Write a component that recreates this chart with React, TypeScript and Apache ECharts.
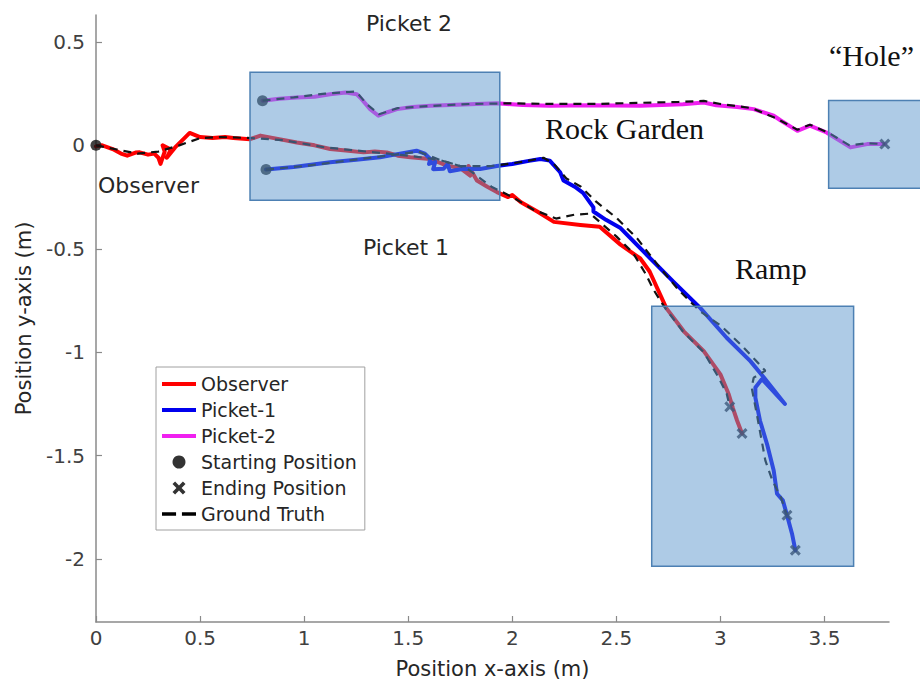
import React, { useEffect, useRef } from "react";
import * as echarts from "echarts";

// ---- data (metres) ----
const xTicks = [0, 0.5, 1, 1.5, 2, 2.5, 3, 3.5];
const yTicks = [-2, -1.5, -1, -0.5, 0, 0.5];

const observerPath = [
  [0, -0.005], [0.03, 0.0], [0.08, -0.018], [0.12, -0.04], [0.15, -0.05], [0.19, -0.035], [0.21, -0.034],
  [0.25, -0.045], [0.28, -0.04], [0.3, -0.06], [0.31, -0.09], [0.33, -0.03], [0.32, 0.0], [0.36, -0.02],
  [0.34, -0.06], [0.38, -0.01], [0.42, 0.03], [0.45, 0.06], [0.5, 0.04], [0.56, 0.035], [0.62, 0.04],
  [0.66, 0.035], [0.74, 0.03], [0.79, 0.047], [0.88, 0.03], [0.965, 0.014], [1.05, 0.0], [1.125, -0.018],
  [1.2, -0.025], [1.285, -0.034], [1.34, -0.03], [1.397, -0.034], [1.45, -0.05], [1.51, -0.058],
  [1.606, -0.066], [1.686, -0.098], [1.75, -0.11], [1.798, -0.146], [1.79, -0.1], [1.83, -0.17],
  [1.88, -0.2], [1.926, -0.226], [1.98, -0.25], [2.0, -0.24], [2.04, -0.274], [2.12, -0.32], [2.2, -0.37],
  [2.327, -0.385], [2.42, -0.394], [2.52, -0.48], [2.615, -0.547], [2.66, -0.61], [2.71, -0.72],
  [2.74, -0.787], [2.824, -0.899], [2.92, -0.995], [3.0, -1.107], [3.04, -1.203], [3.06, -1.27],
  [3.08, -1.33], [3.104, -1.393],
];
const observerTruth = [
  [0, 0], [0.1, -0.02], [0.2, -0.04], [0.3, -0.03], [0.4, 0.0], [0.5, 0.035], [0.6, 0.04], [0.75, 0.035],
  [0.9, 0.025], [1.1, -0.01], [1.3, -0.03], [1.5, -0.05], [1.65, -0.07], [1.78, -0.11], [1.9, -0.2],
  [2.0, -0.25], [2.1, -0.31], [2.21, -0.354], [2.3, -0.335], [2.375, -0.33], [2.42, -0.37], [2.5, -0.44],
  [2.58, -0.52], [2.64, -0.62], [2.68, -0.7], [2.73, -0.78], [2.82, -0.9], [2.92, -1.0], [2.99, -1.12],
  [3.03, -1.2], [3.045, -1.264],
];
const picket1Path = [
  [0.817, -0.117], [0.95, -0.105], [1.125, -0.082], [1.25, -0.07], [1.365, -0.058], [1.494, -0.034],
  [1.54, -0.026], [1.58, -0.04], [1.606, -0.066], [1.6, -0.09], [1.63, -0.08], [1.62, -0.115],
  [1.67, -0.113], [1.69, -0.09], [1.7, -0.125], [1.766, -0.113], [1.846, -0.114], [1.926, -0.1],
  [2.0, -0.09], [2.08, -0.075], [2.135, -0.066], [2.18, -0.074], [2.23, -0.13], [2.246, -0.17],
  [2.3, -0.2], [2.34, -0.23], [2.39, -0.3], [2.39, -0.32], [2.45, -0.36], [2.52, -0.4], [2.647, -0.53],
  [2.775, -0.66], [2.904, -0.787], [3.03, -0.93], [3.144, -1.043], [3.21, -1.123], [3.31, -1.25],
  [3.2, -1.13], [3.168, -1.17], [3.168, -1.219], [3.19, -1.33], [3.224, -1.444], [3.256, -1.572],
  [3.272, -1.684], [3.3, -1.716], [3.32, -1.788], [3.344, -1.877], [3.36, -1.957],
];
const picket1Truth = [
  [0.817, -0.117], [1.0, -0.1], [1.2, -0.075], [1.4, -0.05], [1.55, -0.03], [1.65, -0.07], [1.75, -0.1],
  [1.9, -0.1], [2.05, -0.08], [2.15, -0.06], [2.2, -0.09], [2.26, -0.16], [2.33, -0.2], [2.4, -0.27],
  [2.5, -0.35], [2.6, -0.45], [2.7, -0.58], [2.8, -0.7], [2.9, -0.8], [3.0, -0.87], [3.1, -0.965],
  [3.17, -1.04], [3.216, -1.09], [3.16, -1.123], [3.15, -1.17], [3.175, -1.3], [3.216, -1.524],
  [3.25, -1.62], [3.29, -1.7], [3.32, -1.788],
];
const picket2Path = [
  [0.8, 0.216], [0.88, 0.225], [0.965, 0.231], [1.05, 0.235], [1.125, 0.247], [1.2, 0.255], [1.253, 0.247],
  [1.269, 0.231], [1.317, 0.175], [1.357, 0.143], [1.4, 0.16], [1.446, 0.175], [1.52, 0.185],
  [1.606, 0.191], [1.766, 0.197], [1.926, 0.203], [2.05, 0.195], [2.18, 0.191], [2.375, 0.194],
  [2.615, 0.191], [2.82, 0.199], [2.92, 0.207], [2.98, 0.194], [3.08, 0.185], [3.16, 0.175],
  [3.256, 0.143], [3.29, 0.12], [3.37, 0.07], [3.43, 0.095], [3.51, 0.062], [3.625, -0.01],
  [3.705, 0.006], [3.79, 0.006],
];
const picket2Truth = [
  [0.8, 0.216], [0.95, 0.232], [1.1, 0.25], [1.25, 0.26], [1.3, 0.2], [1.36, 0.15], [1.45, 0.18],
  [1.6, 0.19], [1.8, 0.2], [2.0, 0.203], [2.2, 0.2], [2.4, 0.2], [2.6, 0.205], [2.8, 0.21], [2.92, 0.215],
  [3.0, 0.2], [3.15, 0.18], [3.27, 0.13], [3.37, 0.075], [3.43, 0.1], [3.52, 0.06], [3.62, 0.0],
  [3.7, 0.01], [3.79, 0.006],
];
const startPoints = [[0, 0], [0.817, -0.117], [0.8, 0.216]];
const endPoints = [[3.104, -1.393], [3.045, -1.264], [3.36, -1.957], [3.32, -1.788], [3.79, 0.006]];
// regions: [xLeft, yTop, xRight, yBottom]
const regionBoxes = [
  [0.74, 0.353, 1.94, -0.266],
  [3.52, 0.217, 4.06, -0.208],
  [2.67, -0.778, 3.64, -2.034],
];
const annotations = ["Picket 2", "Picket 1", "Observer", "Rock Garden", "Ramp", "\u201CHole\u201D"];
const legendNames = ["Observer", "Picket-1", "Picket-2", "Starting Position", "Ending Position", "Ground Truth"];

const RED = "#ff0000";
const BLUE = "#0000ee";
const MAGENTA = "#f020f0";
const SANS = "DejaVu Sans";
const SERIF = "Liberation Serif";
const X_ICON = "path://M0,2L2,0L5,3L8,0L10,2L7,5L10,8L8,10L5,7L2,10L0,8L3,5Z";
const LINE_ICON = "path://M0,0H34V4H0Z";
const DASH_ICON = "path://M0,0H12V3H0Z M17,0H29V3H17Z";
const DOT_ICON = "path://M17,6.5A5,5 0 1 1 16.99,6.5Z M0,0H0.01V0.01H0Z M34,13H34.01V13.01H34Z";

export default function App() {
  const ref = useRef<HTMLDivElement>(null);
  useEffect(() => {
    if (!ref.current) return;
    const chart = echarts.init(ref.current, undefined, { renderer: "svg" });
    const axisCommon = {
      axisLine: { show: true, onZero: false, lineStyle: { color: "#8a8a8a", width: 1.5 } },
      axisTick: { show: true, inside: true, length: 6, lineStyle: { color: "#8a8a8a", width: 1.2 } },
      splitLine: { show: false },
      nameTextStyle: { fontFamily: SANS, fontSize: 21, color: "#262626" },
    };
    const traj = (name: string, data: number[][], color: string) => ({
      type: "line", name, data, showSymbol: false, symbol: "none", z: 2,
      lineStyle: { color, width: 4, join: "round", cap: "round" }, itemStyle: { color },
    });
    const truth = (data: number[][]) => ({
      type: "line", name: "Ground Truth", data, showSymbol: false, symbol: "none", z: 3,
      lineStyle: { color: "#111", width: 2.2, type: [8, 6] }, itemStyle: { color: "#111" },
    });
    const txt = (text: string, x: number, y: number, font: string, size: number, color: string, align = "left") => ({
      type: "text", x, y, z: 100,
      style: { text, fill: color, font: `${size}px "${font}"`, textAlign: align, textVerticalAlign: "middle" },
    });
    chart.setOption({
      animation: false,
      backgroundColor: "#ffffff",
      grid: { left: 96, right: 31, top: 15, bottom: 70, outerBoundsMode: "none", containLabel: false },
      xAxis: {
        type: "value", min: 0, max: 3.81, ...axisCommon,
        name: "Position x-axis (m)", nameLocation: "middle", nameGap: 36,
        axisTick: { ...axisCommon.axisTick, customValues: xTicks },
        axisLabel: { customValues: xTicks, fontFamily: SANS, fontSize: 20, color: "#404040", margin: 6 },
      },
      yAxis: {
        type: "value", min: -2.304, max: 0.63, ...axisCommon,
        name: "Position y-axis (m)", nameLocation: "middle", nameGap: 62,
        axisTick: { ...axisCommon.axisTick, customValues: yTicks },
        axisLabel: { customValues: yTicks, fontFamily: SANS, fontSize: 20, color: "#404040", margin: 11 },
      },
      legend: {
        orient: "vertical", left: 156, top: 367,
        padding: [7, 8, 6, 6], itemGap: 6, itemWidth: 34, itemHeight: 13,
        backgroundColor: "#ffffff", borderColor: "#a0a0a0", borderWidth: 1,
        textStyle: { fontFamily: SANS, fontSize: 19, color: "#262626", lineHeight: 20 },
        data: [
          { name: legendNames[0], icon: LINE_ICON, itemStyle: { color: RED } },
          { name: legendNames[1], icon: LINE_ICON, itemStyle: { color: BLUE } },
          { name: legendNames[2], icon: LINE_ICON, itemStyle: { color: MAGENTA } },
          { name: legendNames[3], icon: "circle", itemStyle: { color: "#000" } },
          { name: legendNames[4], icon: X_ICON, itemStyle: { color: "#000" } },
          { name: legendNames[5], icon: DASH_ICON, itemStyle: { color: "#000" } },
        ],
      },
      series: [
        traj(legendNames[0], observerPath, RED),
        traj(legendNames[1], picket1Path, BLUE),
        traj(legendNames[2], picket2Path, MAGENTA),
        truth(observerTruth),
        truth(picket1Truth),
        truth(picket2Truth),
        {
          type: "scatter", name: legendNames[3], data: startPoints, symbol: "circle", symbolSize: 11, z: 4,
          itemStyle: { color: "#111" },
        },
        {
          type: "scatter", name: legendNames[4], data: endPoints, symbol: X_ICON, symbolSize: 11, z: 4,
          itemStyle: { color: "#1a1a2a" },
        },
        {
          type: "custom", name: "regions", data: regionBoxes, clip: false, z: 6, silent: true,
          encode: { x: [0, 2], y: [1, 3] },
          renderItem: (params: any, api: any) => {
            const p0 = api.coord([api.value(0), api.value(1)]);
            const p1 = api.coord([api.value(2), api.value(3)]);
            return {
              type: "rect",
              shape: { x: p0[0], y: p0[1], width: p1[0] - p0[0], height: p1[1] - p0[1] },
              style: { fill: "rgba(93,151,205,0.5)", stroke: "#4d80b3", lineWidth: 1.5 },
            };
          },
        },
      ],
      graphic: [
        txt(annotations[0], 409, 23, SANS, 22, "#262626", "center"),
        txt(annotations[1], 406, 247, SANS, 22, "#262626", "center"),
        txt(annotations[2], 98, 185, SANS, 22, "#262626"),
        txt(annotations[3], 545, 128, SERIF, 30, "#111"),
        txt(annotations[4], 735, 268, SERIF, 30, "#111"),
        txt(annotations[5], 829, 55, SERIF, 30, "#111"),
      ],
    });
    return () => chart.dispose();
  }, []);
  return <div ref={ref} style={{ position: "absolute", left: 0, top: 0, width: 920, height: 692 }} />;
}
